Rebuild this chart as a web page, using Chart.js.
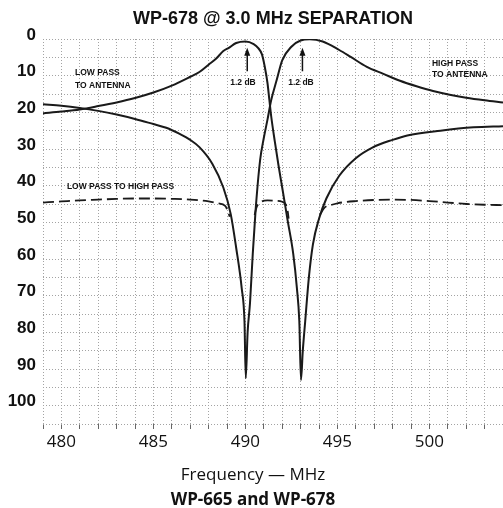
<!DOCTYPE html>
<html>
<head>
<meta charset="utf-8">
<script src="https://cdn.jsdelivr.net/npm/chart.js@4.4.0/dist/chart.umd.min.js"></script>
<style>
  html, body { margin: 0; padding: 0; background: #fff; }
</style>
</head>
<body>
<canvas id="chart" width="503" height="508"></canvas>
<script>
// Low pass to antenna (dB loss vs MHz)
const lpFreq = [479, 480, 481, 482, 483, 484, 485, 486, 487, 487.5, 488, 488.4, 488.8, 489.1, 489.5, 490.0,
  490.45, 490.7, 490.9, 491.05, 491.2, 491.3, 491.4, 491.6, 491.8, 492.0, 492.3, 492.6, 492.8, 492.93, 493.02,
  493.12, 493.25, 493.45, 493.67, 494.0, 494.4, 495.1, 496.0, 496.9, 498.0, 498.8, 500.6, 502.4, 504];
const lpLoss = [20.3, 19.8, 19.2, 18.3, 17.3, 16.1, 14.6, 12.7, 10.3, 9.0, 7.0, 5.4, 3.3, 2.4, 1.1, 0.7,
  1.4, 2.5, 4.2, 7.5, 12, 16.5, 21, 28, 34.5, 40.5, 49.6, 58.6, 68, 77, 93,
  85, 77, 65, 56, 49, 43.5, 37.3, 32.5, 29.6, 27.5, 26.3, 25.0, 24.1, 23.8];

// High pass to antenna
const hpFreq = [479, 480, 481, 482, 483, 484, 485, 485.7, 486.4, 487, 487.5, 488.2, 488.8, 489.2, 489.5, 489.8,
  489.95, 490.02, 490.12, 490.25, 490.4, 490.55, 490.8, 491.0, 491.2, 491.4, 491.7, 492.0, 492.5, 493.0, 493.5,
  494.2, 495.1, 495.7, 496.6, 497.5, 498.4, 499.3, 500.2, 501.1, 502, 503, 504];
const hpLoss = [17.8, 18.2, 18.8, 19.6, 20.6, 21.8, 23.2, 24.2, 25.8, 27.5, 29.5, 34, 40.5, 47.7, 57, 68,
  77, 92.5, 80, 72, 58.6, 47, 33, 27, 22, 16.7, 11.2, 5.8, 2.1, 0.4, 0.1,
  0.7, 3.0, 4.8, 7.6, 9.5, 11.4, 12.9, 14.2, 15.2, 16.0, 16.7, 17.3];

// Low pass to high pass (dashed), null = gap behind the solid curves
const lphpFreq = [479, 480, 481, 482, 483, 484, 485, 486, 487, 488, 488.5, 488.9, 489.05, 489.15,
  489.8,
  490.5, 490.6, 490.8, 491.2, 491.6, 492.0, 492.2, 492.3, 492.35,
  493.2,
  494.05, 494.3, 494.7, 495, 496, 497, 498, 499, 500, 501, 502, 503, 504];
const lphpLoss = [44.6, 44.3, 44.0, 43.8, 43.6, 43.5, 43.5, 43.6, 43.8, 44.3, 44.8, 45.5, 47, 48.5,
  null,
  48, 46, 44.6, 44.0, 44.1, 44.4, 45.2, 47, 49,
  null,
  48, 46, 45.2, 44.8, 44.2, 43.9, 43.8, 43.9, 44.2, 44.6, 45.0, 45.2, 45.3];

const freqTicks = [480, 485, 490, 495, 500];
const lossTicks = [0, 10, 20, 30, 40, 50, 60, 70, 80, 90, 100];

function points(xs, ys) {
  return xs.map((x, i) => ({ x: x, y: ys[i] }));
}

// text notes placed in data coordinates
const notes = [
  { text: 'LOW PASS', x: 480.74, y: 9.3, align: 'left' },
  { text: 'TO ANTENNA', x: 480.74, y: 12.6, align: 'left' },
  { text: 'HIGH PASS', x: 500.14, y: 6.6, align: 'left' },
  { text: 'TO ANTENNA', x: 500.14, y: 9.6, align: 'left' },
  { text: 'LOW PASS TO HIGH PASS', x: 480.3, y: 40.3, align: 'left' },
  { text: '1.2 dB', x: 489.87, y: 11.8, align: 'center' },
  { text: '1.2 dB', x: 493.02, y: 11.8, align: 'center' }
];
const arrows = [
  { x: 490.1, from: 8.8, to: 2.4 },
  { x: 493.1, from: 8.8, to: 2.4 }
];

const notesPlugin = {
  id: 'notes',
  afterDatasetsDraw(chart) {
    const ctx = chart.ctx;
    const xs = chart.scales.x, ys = chart.scales.y;
    ctx.save();
    ctx.fillStyle = '#111';
    ctx.strokeStyle = '#111';
    ctx.font = "bold 8.5px 'Liberation Sans', Arial, sans-serif";
    ctx.textBaseline = 'middle';
    notes.forEach(n => {
      ctx.textAlign = n.align;
      ctx.fillText(n.text, xs.getPixelForValue(n.x), ys.getPixelForValue(n.y));
    });
    arrows.forEach(a => {
      const px = xs.getPixelForValue(a.x);
      const y1 = ys.getPixelForValue(a.from);
      const y2 = ys.getPixelForValue(a.to);
      ctx.lineWidth = 1.5;
      ctx.beginPath();
      ctx.moveTo(px, y1);
      ctx.lineTo(px, y2 + 6);
      ctx.stroke();
      ctx.beginPath();
      ctx.moveTo(px, y2);
      ctx.lineTo(px - 3, y2 + 8);
      ctx.lineTo(px + 3, y2 + 8);
      ctx.closePath();
      ctx.fill();
    });
    ctx.restore();
  },
  afterDraw(chart) {
    // axis caption, centred on the page like the original
    const ctx = chart.ctx;
    ctx.save();
    ctx.fillStyle = '#111';
    ctx.textAlign = 'center';
    ctx.textBaseline = 'middle';
    ctx.font = "17px 'Open Sans', 'Liberation Sans', sans-serif";
    ctx.fillText('Frequency \u2014 MHz', 253, 475);
    ctx.font = "bold 17px 'Open Sans', 'Liberation Sans', sans-serif";
    ctx.fillText('WP-665 and WP-678', 253, 500);
    ctx.restore();
  }
};

const gridColor = '#a3a3a3';

new Chart(document.getElementById('chart'), {
  type: 'line',
  data: {
    datasets: [
      {
        label: 'Low pass to antenna',
        data: points(lpFreq, lpLoss),
        borderColor: '#1a1a1a',
        borderWidth: 2,
        pointRadius: 0,
        cubicInterpolationMode: 'monotone'
      },
      {
        label: 'High pass to antenna',
        data: points(hpFreq, hpLoss),
        borderColor: '#1a1a1a',
        borderWidth: 2,
        pointRadius: 0,
        cubicInterpolationMode: 'monotone'
      },
      {
        label: 'Low pass to high pass',
        data: points(lphpFreq, lphpLoss),
        borderColor: '#1a1a1a',
        borderWidth: 1.8,
        borderDash: [11, 5],
        pointRadius: 0,
        spanGaps: false,
        cubicInterpolationMode: 'monotone'
      }
    ]
  },
  options: {
    responsive: false,
    animation: false,
    layout: { padding: { left: 0, right: 0, top: 0, bottom: 54 } },
    plugins: {
      legend: { display: false },
      tooltip: { enabled: false },
      title: {
        display: true,
        fullSize: false,
        text: 'WP-678 @ 3.0 MHz SEPARATION',
        color: '#111',
        font: { family: "'Liberation Sans', Arial, sans-serif", size: 18, weight: 'bold', lineHeight: 1.2 },
        padding: { top: 8.6, bottom: 8.8 }
      }
    },
    scales: {
      x: {
        type: 'linear',
        min: 479,
        max: 504,
        afterFit: scale => {
          scale.height = 30;
          scale.paddingLeft = 0;
          scale.paddingRight = 0;
        },
        afterBuildTicks: scale => {
          const t = [];
          for (let v = 479; v <= 504; v++) t.push({ value: v });
          scale.ticks = t;
        },
        ticks: {
          autoSkip: false,
          maxRotation: 0,
          padding: 5,
          color: '#111',
          font: { family: "'Open Sans', 'Liberation Sans', sans-serif", size: 17, lineHeight: 1.0 },
          callback: v => freqTicks.includes(v) ? String(v) : ''
        },
        grid: { color: gridColor, lineWidth: 1, tickLength: 5, tickColor: '#666' },
        border: { display: false, dash: [1, 2] }
      },
      y: {
        type: 'linear',
        reverse: true,
        min: 0,
        max: 105,
        afterFit: scale => { scale.width = 43; },
        afterBuildTicks: scale => {
          const t = [];
          for (let v = 0; v <= 105; v += 5) t.push({ value: v });
          scale.ticks = t;
        },
        ticks: {
          autoSkip: false,
          padding: 7,
          labelOffset: -4,
          color: '#111',
          font: { family: "'Liberation Sans', Arial, sans-serif", size: 17, weight: 'bold' },
          callback: v => lossTicks.includes(v) ? String(v) : ''
        },
        grid: { color: gridColor, lineWidth: 1, drawTicks: false },
        border: { display: false, dash: [1, 2] }
      }
    }
  },
  plugins: [notesPlugin]
});
</script>
</body>
</html>
